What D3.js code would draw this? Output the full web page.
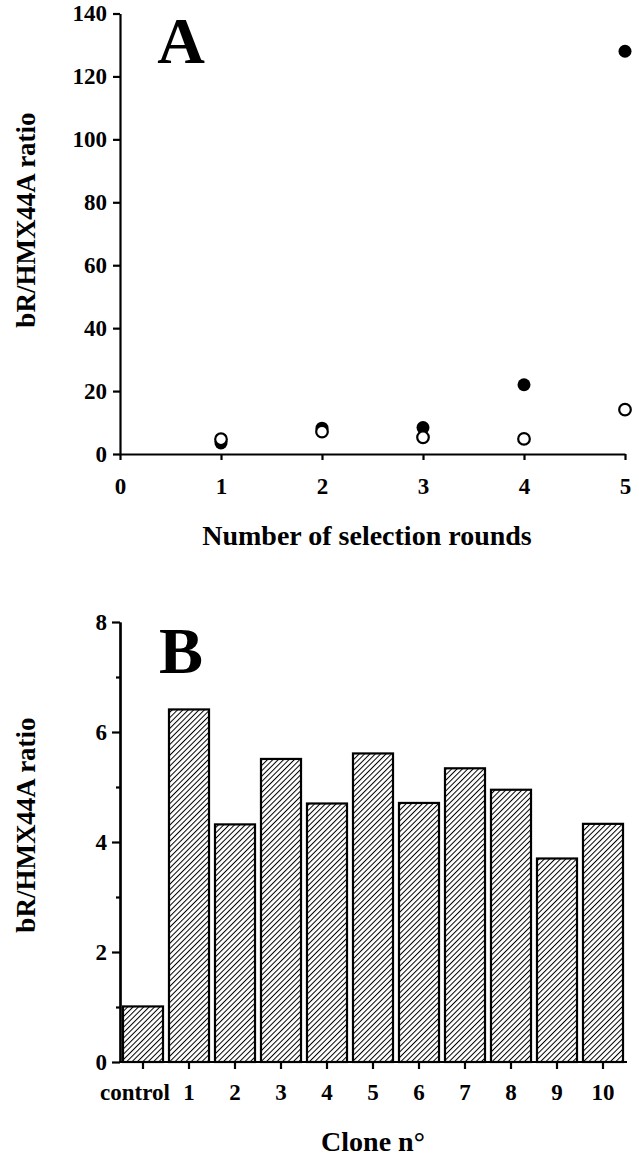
<!DOCTYPE html>
<html>
<head>
<meta charset="utf-8">
<script src="https://cdn.jsdelivr.net/npm/d3@7"></script>
<style>
  body { margin: 0; background: #fff; }
  svg { display: block; font-family: "Liberation Serif", "Times New Roman", serif; font-weight: bold; }
  .axis path, .axis line { stroke: #000; stroke-width: 2.2; }
  .axis text { font-size: 23px; font-family: "Liberation Serif", serif; font-weight: bold; fill: #000; }
</style>
</head>
<body>
<svg id="chart" width="639" height="1156"></svg>
<script>
// Panel A: ratio vs number of selection rounds
var rounds = [1, 2, 3, 4, 5];
var filledRatio = [3.5, 8.2, 8.4, 22, 128];
var openRatio = [4.7, 7.1, 5.3, 4.8, 14.1];
var roundTicks = [0, 1, 2, 3, 4, 5];
var ratioTicksA = [0, 20, 40, 60, 80, 100, 120, 140];

// Panel B: ratio per clone
var clones = ["control", "1", "2", "3", "4", "5", "6", "7", "8", "9", "10"];
var cloneRatio = [1.01, 6.41, 4.32, 5.51, 4.70, 5.61, 4.71, 5.34, 4.95, 3.70, 4.33];
var ratioTicksB = [0, 2, 4, 6, 8];
var ratioMinorB = [1, 3, 5, 7];

var svg = d3.select("#chart");

// hatch pattern for bars
var defs = svg.append("defs");
defs.append("pattern")
  .attr("id", "hatch")
  .attr("patternUnits", "userSpaceOnUse")
  .attr("width", 3.8)
  .attr("height", 3.8)
  .attr("patternTransform", "rotate(45)")
  .append("line")
  .attr("x1", 0).attr("y1", 0)
  .attr("x2", 0).attr("y2", 3.8)
  .attr("stroke", "#000")
  .attr("stroke-width", 2);

// ---------- Panel A ----------
var xA = d3.scaleLinear().domain([0, 5]).range([120, 625]);
var yA = d3.scaleLinear().domain([0, 140]).range([454, 13.5]);

svg.append("g")
  .attr("class", "axis")
  .attr("transform", "translate(120,0)")
  .call(d3.axisLeft(yA).tickValues(ratioTicksA).tickSize(7).tickSizeOuter(0).tickPadding(6));

svg.append("g")
  .attr("class", "axis")
  .attr("transform", "translate(0,454)")
  .call(d3.axisBottom(xA).tickValues(roundTicks).tickSize(6).tickSizeOuter(0).tickPadding(18).tickFormat(d3.format("d")));

// filled circles first, open circles drawn on top
svg.append("g").selectAll("circle")
  .data(rounds)
  .enter().append("circle")
  .attr("cx", function (d) { return xA(d); })
  .attr("cy", function (d, i) { return yA(filledRatio[i]); })
  .attr("r", 6.5)
  .attr("fill", "#000");

svg.append("g").selectAll("circle")
  .data(rounds)
  .enter().append("circle")
  .attr("cx", function (d) { return xA(d); })
  .attr("cy", function (d, i) { return yA(openRatio[i]); })
  .attr("r", 5.8)
  .attr("fill", "#fff")
  .attr("stroke", "#000")
  .attr("stroke-width", 2.2);

svg.append("text")
  .attr("x", 181).attr("y", 63)
  .attr("text-anchor", "middle")
  .style("font-size", "66px")
  .text("A");

svg.append("text")
  .attr("transform", "translate(35,220) rotate(-90)")
  .attr("text-anchor", "middle")
  .style("font-size", "27px")
  .text("bR/HMX44A ratio");

svg.append("text")
  .attr("x", 367).attr("y", 545)
  .attr("text-anchor", "middle")
  .style("font-size", "28px")
  .text("Number of selection rounds");

// ---------- Panel B ----------
var xB = d3.scaleBand().domain(clones).range([120, 626]).paddingInner(0.13).paddingOuter(0.065);
var yB = d3.scaleLinear().domain([0, 8]).range([1062, 622]);

svg.append("g").selectAll("rect")
  .data(clones)
  .enter().append("rect")
  .attr("x", function (d) { return xB(d); })
  .attr("y", function (d, i) { return yB(cloneRatio[i]); })
  .attr("width", xB.bandwidth())
  .attr("height", function (d, i) { return yB(0) - yB(cloneRatio[i]); })
  .attr("fill", "url(#hatch)")
  .attr("stroke", "#000")
  .attr("stroke-width", 2.2);

// minor ticks
svg.append("g")
  .attr("class", "axis")
  .attr("transform", "translate(120,0)")
  .call(d3.axisLeft(yB).tickValues(ratioMinorB).tickSize(4).tickSizeOuter(0).tickFormat(""));

svg.append("g")
  .attr("class", "axis")
  .attr("transform", "translate(120,0)")
  .call(d3.axisLeft(yB).tickValues(ratioTicksB).tickSize(8).tickSizeOuter(0).tickPadding(5));

var xAxisB = svg.append("g")
  .attr("class", "axis")
  .attr("transform", "translate(0,1062)")
  .call(d3.axisBottom(xB).tickSize(7).tickSizeOuter(0).tickPadding(15));
xAxisB.select(".domain").attr("d", "M119,0H627");
xAxisB.selectAll(".tick text")
  .attr("dx", function (d) { return d === "control" ? -8 : 0; });

svg.append("text")
  .attr("x", 181).attr("y", 673)
  .attr("text-anchor", "middle")
  .style("font-size", "66px")
  .text("B");

svg.append("text")
  .attr("transform", "translate(35,825) rotate(-90)")
  .attr("text-anchor", "middle")
  .style("font-size", "27px")
  .text("bR/HMX44A ratio");

svg.append("text")
  .attr("x", 373).attr("y", 1151)
  .attr("text-anchor", "middle")
  .style("font-size", "28px")
  .text("Clone n°");
</script>
</body>
</html>
